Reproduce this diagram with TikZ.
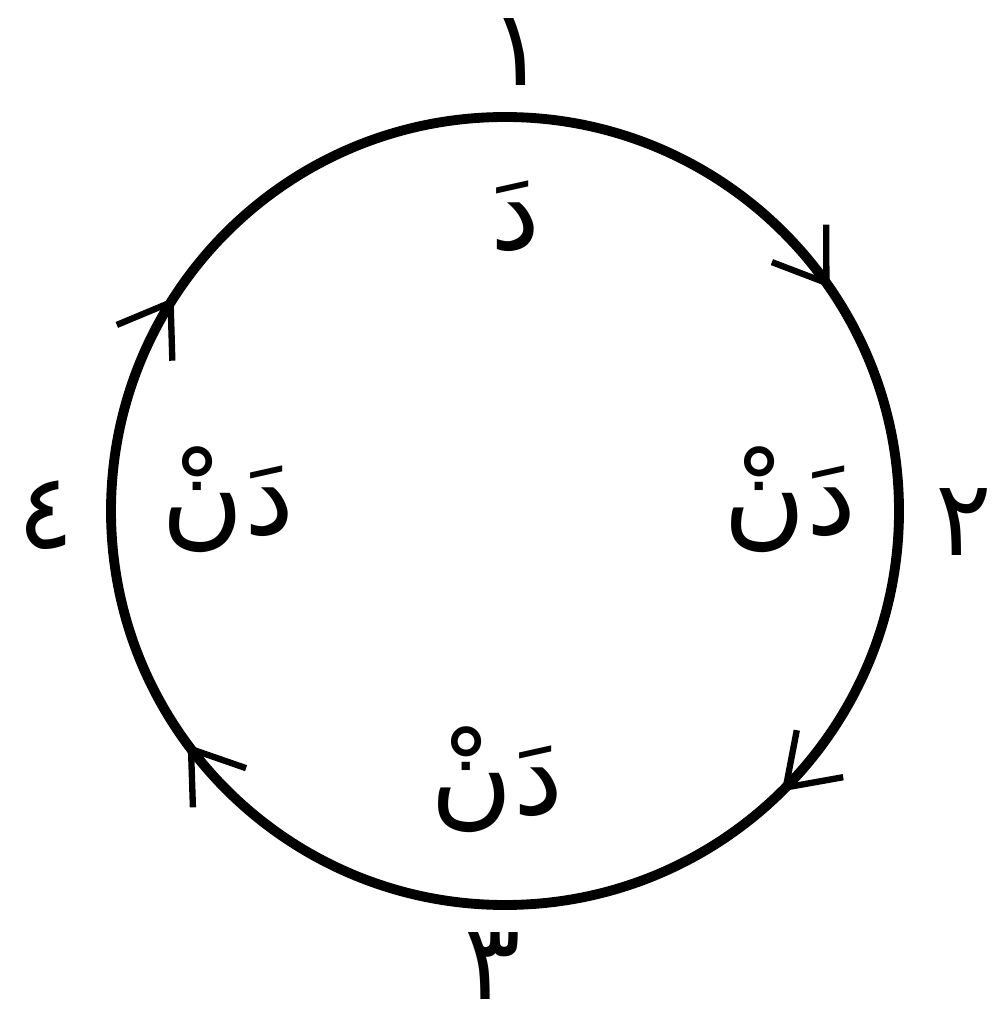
\documentclass[tikz,border=0pt]{standalone}
\usepackage{fontspec}
\newfontfamily\arabicfont[Script=Arabic]{DejaVu Sans}
\TeXXeTstate=1
\usetikzlibrary{arrows.meta, decorations.markings}

\begin{document}
\begin{tikzpicture}[
    x=0.01cm, y=-0.01cm,
    ring/.style={line width=2.8pt, black},
    beat/.style={font=\arabicfont\fontsize{30}{30}\selectfont, inner sep=0pt},
    syl/.style={font=\arabicfont\fontsize{32}{32}\selectfont, inner sep=0pt},
    barb/.tip={Straight Barb[length=4.8mm, width=6.6mm, line width=1.8pt]}
]
\useasboundingbox (0,0) rectangle (995,1031);

% the cycle, drawn clockwise from the top
\coordinate (c) at (505,511);
\draw[ring, postaction={decorate}, decoration={markings,
      mark=at position 0.154 with {\arrow{barb}},
      mark=at position 0.376 with {\arrow{barb}},
      mark=at position 0.649 with {\arrow{barb}},
      mark=at position 0.841 with {\arrow{barb}}}]
  (505,117) arc[start angle=-90, end angle=270, radius=394];

% beat numbers
\node[beat] (n1) at (518,52)  {\beginR ١\endR};
\node[beat] (n2) at (964,522) {\beginR ٢\endR};
\node[beat] (n3) at (493,966) {\beginR ٣\endR};
\node[beat] (n4) at (46,515)  {\beginR ٤\endR};

% syllables
\node[syl] (s1) at (516,216) {\beginR دَ\endR};
\node[syl] (s2) at (790,500) {\beginR دَنْ\endR};
\node[syl] (s3) at (497,780) {\beginR دَنْ\endR};
\node[syl] (s4) at (228,500) {\beginR دَنْ\endR};

\end{tikzpicture}
\end{document}
